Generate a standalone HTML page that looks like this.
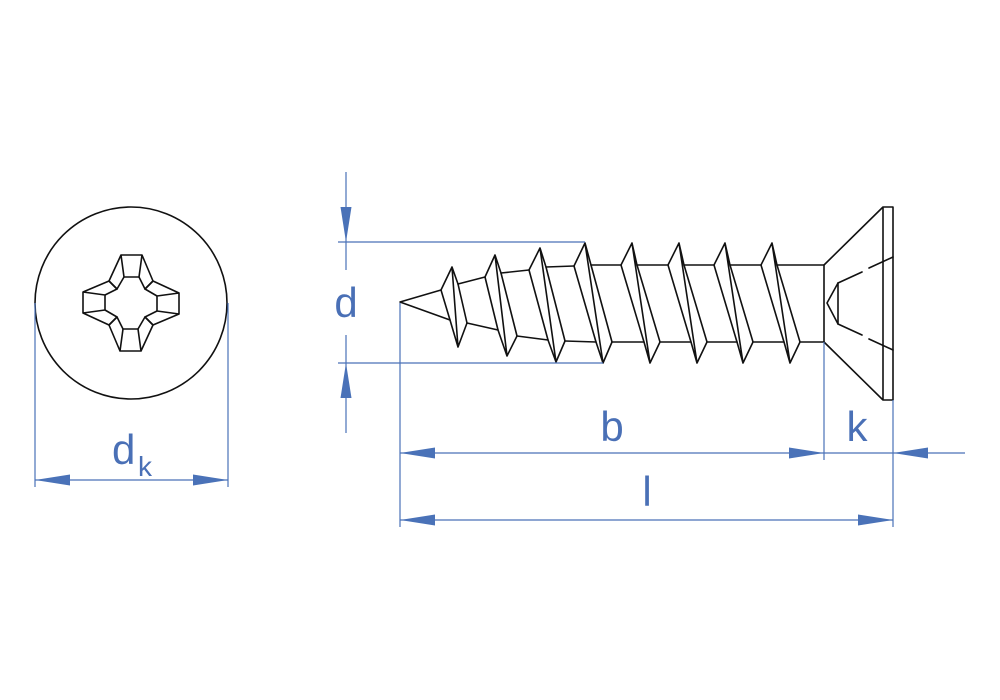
<!DOCTYPE html>
<html><head><meta charset="utf-8"><style>
html,body{margin:0;padding:0;background:#fff;width:1000px;height:700px;overflow:hidden}
text{font-family:"Liberation Sans",sans-serif;fill:#4a70b6}
</style></head><body>
<svg width="1000" height="700" viewBox="0 0 1000 700" xmlns="http://www.w3.org/2000/svg">
<defs>
<g id="q" fill="none" stroke="#111" stroke-width="1.6" stroke-linejoin="round">
<path d="M-10,-48 L11,-48 L8,-26 L-7,-26 Z"/>
<path d="M-10,-48 L-22,-22 L-14,-14 L-7,-26"/>
<path d="M11,-48 L22,-22 L14,-14 L8,-26"/>
</g>
</defs>
<!-- top view -->
<circle cx="131" cy="303" r="96" fill="none" stroke="#111" stroke-width="1.6"/>
<g transform="translate(131,303)">
<use href="#q"/><use href="#q" transform="rotate(90)"/><use href="#q" transform="rotate(180)"/><use href="#q" transform="rotate(270)"/>
</g>
<!-- dk dimension -->
<g stroke="#4a72b8" stroke-width="1.2" fill="#4a72b8">
<line x1="35" y1="303" x2="35" y2="487"/>
<line x1="228" y1="303" x2="228" y2="487"/>
<line x1="35" y1="480" x2="228" y2="480"/>
<path d="M35,480 L70,474.5 L70,485.5 Z" stroke="none"/>
<path d="M228,480 L193,474.5 L193,485.5 Z" stroke="none"/>
</g>
<text x="112" y="464" font-size="42">d</text><text x="138" y="476" font-size="28">k</text>

<!-- side view -->
<g fill="none" stroke="#111" stroke-width="1.6" stroke-linejoin="round" stroke-linecap="round">
<path d="M441,290 L400,302 L450,320"/>
<path id="t1" d="M441,290 L452,267 L458,284 M441,290 L450,320 M452,267 L458,347 M458,284 L467,323 M450,320 L458,347 L467,323"/>
<path d="M485,277 L495,255 L501,273 M485,277 L498,330 M495,255 L507,356 M501,273 L517,336 M498,330 L507,356 L517,336"/>
<path d="M529,270 L540,248 L546,267 M529,270 L548,340 M540,248 L556,362 M546,267 L565,341 M548,340 L556,362 L565,341"/>
<path d="M574,266 L585,243 L591,265 M574,266 L596,342 M585,243 L603,363 M591,265 L612,342 M596,342 L603,363 L612,342"/>
<g id="tt"><path d="M621,265 L632,243 L637,265 M621,265 L644,342 M632,243 L650,363 M637,265 L660,342 M644,342 L650,363 L660,342"/></g>
<use href="#tt" transform="translate(47,0)"/>
<use href="#tt" transform="translate(93,0)"/>
<use href="#tt" transform="translate(140,0)"/>
<!-- roots -->
<path d="M458,284 L485,277 M501,273 L529,270 M546,267 L574,266 M591,265 L621,265 M637,265 L668,265 M684,265 L714,265 M730,265 L761,265 M777,265 L824,265"/>
<path d="M467,323 L498,330 M517,336 L548,340 M565,341 L596,342 M612,342 L644,342 M660,342 L691,342 M707,342 L737,342 M753,342 L784,342 M800,342 L824,342"/>
<!-- head -->
<path d="M824,265 L824,342 M824,265 L883,207 L893,207 L893,400 L883,400 L824,342 M883,207 L883,400"/>
<path d="M827,303 L838,283 L838,324 Z"/>
<path d="M838,283 L862,272 M869,268 L893,257 M838,324 L862,335 M869,339 L893,350"/>
</g>

<!-- dimensions -->
<g stroke="#4a72b8" stroke-width="1.2" fill="#4a72b8">
<line x1="338" y1="242" x2="585" y2="242"/>
<line x1="338" y1="363" x2="603" y2="363"/>
<line x1="346" y1="172" x2="346" y2="270"/>
<line x1="346" y1="335" x2="346" y2="433"/>
<path d="M346,242 L340.5,207 L351.5,207 Z" stroke="none"/>
<path d="M346,363 L340.5,398 L351.5,398 Z" stroke="none"/>
<line x1="400" y1="303" x2="400" y2="527"/>
<line x1="824" y1="342" x2="824" y2="460"/>
<line x1="893" y1="400" x2="893" y2="527"/>
<line x1="400" y1="453" x2="965" y2="453"/>
<path d="M400,453 L435,447.5 L435,458.5 Z" stroke="none"/>
<path d="M824,453 L789,447.5 L789,458.5 Z" stroke="none"/>
<path d="M893,453 L928,447.5 L928,458.5 Z" stroke="none"/>
<line x1="400" y1="520" x2="893" y2="520"/>
<path d="M400,520 L435,514.5 L435,525.5 Z" stroke="none"/>
<path d="M893,520 L858,514.5 L858,525.5 Z" stroke="none"/>
</g>
<text x="346" y="317" font-size="42" text-anchor="middle">d</text>
<text x="612" y="441" font-size="42" text-anchor="middle">b</text>
<text x="857" y="441" font-size="42" text-anchor="middle">k</text>
<text x="647" y="506" font-size="42" text-anchor="middle">l</text>
</svg>
</body></html>
